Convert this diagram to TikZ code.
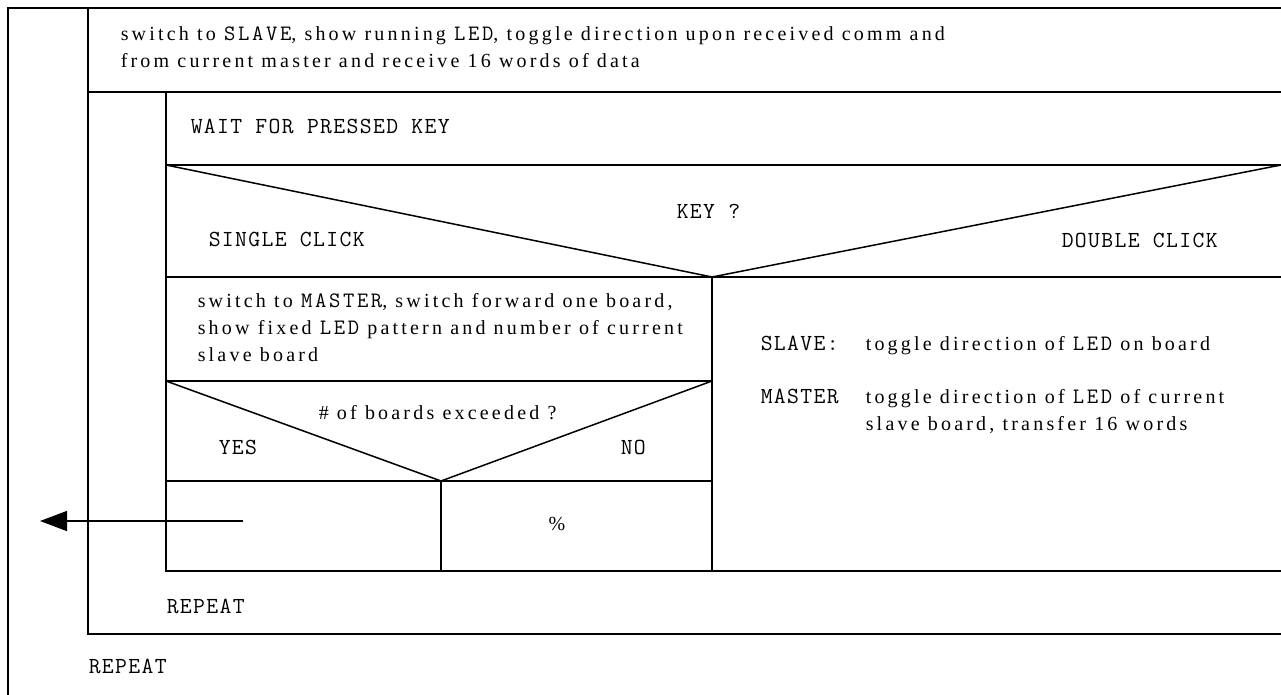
\documentclass[tikz,border=0pt]{standalone}
\usepackage{fontspec}
\setmainfont[LetterSpace=16]{Liberation Serif}
\newfontfamily\capsfont[LetterSpace=6]{Latin Modern Mono}
\newfontfamily\wordcaps[LetterSpace=12]{Latin Modern Mono}
\usetikzlibrary{positioning,calc,arrows.meta}
\newcommand{\uc}[1]{{\wordcaps\fontsize{22}{27}\selectfont #1}}

\begin{document}
\begin{tikzpicture}[x=1pt,y=-1pt,line width=1.5pt,
    txt/.style={anchor=base west,inner sep=0pt,align=left,font=\fontsize{20}{27}\selectfont},
    caps/.style={anchor=base west,inner sep=0pt,font=\capsfont\fontsize{23}{27}\selectfont},
    heavy/.style={line width=2.5pt}]
    \useasboundingbox (0,0) rectangle (1281,695);
    % outer repeat loop
    \draw (8,695) -- (8,8) -- (1281,8);
    \draw (88,8) -- (88,634) -- (1281,634);
    \draw (88,92) -- (1281,92);
    % inner repeat loop
    \draw (166,92) -- (166,571) -- (1281,571);
    \draw (166,165) -- (1281,165);
    \draw (166,277) -- (1281,277);
    \draw (166,165) -- (712,277) -- (1281,165);
    \draw[heavy] (712,277) -- (712,571);
	% master branch
    \draw (166,381) -- (712,381);
    \draw (166,481) -- (712,481);
    \draw (166,381) -- (441,481) -- (712,381);
    \draw (441,481) -- (441,571);

    \node[txt] (slavecmd) at (120,68) {switch to \uc{SLAVE}, show running \uc{LED}, toggle direction upon received comm and\\from current master and receive 16 words of data};
    \node[caps] (wait) at (190,134) {WAIT FOR PRESSED KEY};
    \node[caps] (key) at (676,218) {KEY ?};
    \node[caps] (single) at (208,246) {SINGLE CLICK};
    \node[caps] (double) at (1061,247) {DOUBLE CLICK};
    \node[txt] (mastercmd) at (197,361) {switch to \uc{MASTER}, switch forward one board,\\show fixed \uc{LED} pattern and number of current\\slave board};
    \node[txt] (exceeded) at (318,419) {\# of boards exceeded ?};
    \node[caps] (yes) at (218,454) {YES};
    \node[caps] (no) at (620,454) {NO};
    \node[txt,anchor=center] (pct) at (557,524) {\%};
    \node[caps] (slavelbl) at (760,350) {SLAVE:};
    \node[txt] (slavetxt) at (865,350) {toggle direction of \uc{LED} on board};
    \node[caps] (masterlbl) at (760,403) {MASTER};
    \node[txt] (mastertxt) at (865,430) {toggle direction of \uc{LED} of current\\slave board, transfer 16 words};
    \node[caps] (innerrep) at (166,613) {REPEAT};
    \node[caps] (outerrep) at (88,673) {REPEAT};

    \coordinate (exitfrom) at (243,521);
    \coordinate (exitto) at (40,521);
    \draw[-{Triangle[length=27pt,width=20pt]}] (exitfrom) -- (exitto);
\end{tikzpicture}
\end{document}
